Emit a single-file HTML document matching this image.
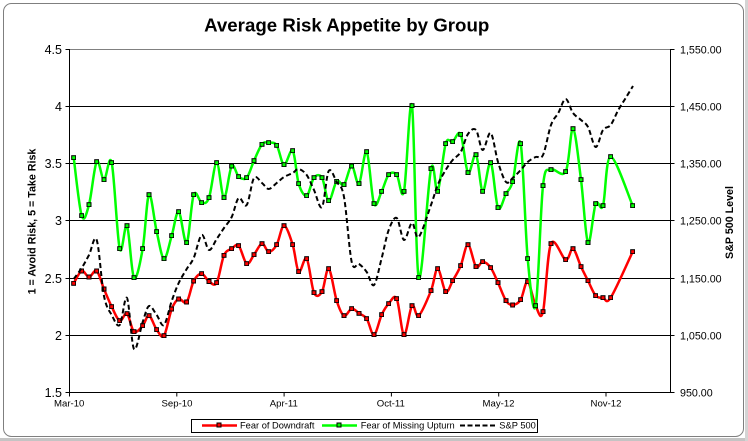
<!DOCTYPE html>
<html>
<head>
<meta charset="utf-8">
<style>
html,body{margin:0;padding:0;background:#fff;}
svg{display:block;}
</style>
</head>
<body>
<svg id="chart" width="748" height="441" viewBox="0 0 748 441" xmlns="http://www.w3.org/2000/svg" font-family="'Liberation Sans', Arial, sans-serif">
  <defs>
    <marker id="mr" markerUnits="userSpaceOnUse" markerWidth="5" markerHeight="5" refX="2.5" refY="2.5" viewBox="0 0 5 5">
      <rect x="0.5" y="0.5" width="4" height="4" fill="#ff0000" stroke="#000" stroke-width="1"/>
    </marker>
    <marker id="mg" markerUnits="userSpaceOnUse" markerWidth="5" markerHeight="5" refX="2.5" refY="2.5" viewBox="0 0 5 5">
      <rect x="0.5" y="0.5" width="4" height="4" fill="#00ff00" stroke="#000" stroke-width="1"/>
    </marker>
  </defs>

  <!-- outer background / sheet -->
  <rect x="0" y="0" width="748" height="441" fill="#ffffff"/>
  <rect x="0" y="438" width="748" height="3" fill="#c4c4c4"/>
  <rect x="745" y="0" width="3" height="441" fill="#d4d4d4"/>
  <!-- chart frame -->
  <rect x="3.5" y="3.5" width="740" height="433" rx="8" ry="8" fill="#ffffff" stroke="#7f7f7f" stroke-width="1"/>

  <!-- title -->
  <text x="346.7" y="31.5" font-size="18.7" font-weight="bold" text-anchor="middle" fill="#000">Average Risk Appetite by Group</text>

  <!-- plot area -->
  <rect x="69.5" y="49.5" width="601" height="343" fill="#ffffff" stroke="#808080" stroke-width="1"/>

  <!-- gridlines -->
  <g stroke="#000" stroke-width="1">
    <line x1="69" y1="106.5" x2="671" y2="106.5"/>
    <line x1="69" y1="163.5" x2="671" y2="163.5"/>
    <line x1="69" y1="220.5" x2="671" y2="220.5"/>
    <line x1="69" y1="278.5" x2="671" y2="278.5"/>
    <line x1="69" y1="335.5" x2="671" y2="335.5"/>
  </g>

  <!-- axes -->
  <g stroke="#000" stroke-width="1">
    <line x1="69.5" y1="49" x2="69.5" y2="393"/>
    <line x1="670.5" y1="49" x2="670.5" y2="393"/>
    <line x1="69" y1="392.5" x2="671" y2="392.5"/>
    <!-- left ticks -->
    <line x1="65.5" y1="49.5" x2="69.5" y2="49.5"/>
    <line x1="65.5" y1="106.5" x2="69.5" y2="106.5"/>
    <line x1="65.5" y1="163.5" x2="69.5" y2="163.5"/>
    <line x1="65.5" y1="220.5" x2="69.5" y2="220.5"/>
    <line x1="65.5" y1="278.5" x2="69.5" y2="278.5"/>
    <line x1="65.5" y1="335.5" x2="69.5" y2="335.5"/>
    <line x1="65.5" y1="392.5" x2="69.5" y2="392.5"/>
    <!-- right ticks -->
    <line x1="670.5" y1="49.5" x2="674.5" y2="49.5"/>
    <line x1="670.5" y1="106.5" x2="674.5" y2="106.5"/>
    <line x1="670.5" y1="163.5" x2="674.5" y2="163.5"/>
    <line x1="670.5" y1="220.5" x2="674.5" y2="220.5"/>
    <line x1="670.5" y1="278.5" x2="674.5" y2="278.5"/>
    <line x1="670.5" y1="335.5" x2="674.5" y2="335.5"/>
    <line x1="670.5" y1="392.5" x2="674.5" y2="392.5"/>
    <!-- bottom ticks -->
    <line x1="69.5" y1="392.5" x2="69.5" y2="396.5"/>
    <line x1="176.8" y1="392.5" x2="176.8" y2="396.5"/>
    <line x1="284.1" y1="392.5" x2="284.1" y2="396.5"/>
    <line x1="391.4" y1="392.5" x2="391.4" y2="396.5"/>
    <line x1="498.7" y1="392.5" x2="498.7" y2="396.5"/>
    <line x1="606" y1="392.5" x2="606" y2="396.5"/>
  </g>

  <!-- left axis labels -->
  <g font-size="12.5" fill="#000" text-anchor="end">
    <text x="62" y="53.8">4.5</text>
    <text x="62" y="110.8">4</text>
    <text x="62" y="167.8">3.5</text>
    <text x="62" y="224.8">3</text>
    <text x="62" y="282.8">2.5</text>
    <text x="62" y="339.8">2</text>
    <text x="62" y="396.8">1.5</text>
  </g>

  <!-- right axis labels -->
  <g font-size="10.7" fill="#000" text-anchor="start">
    <text x="680" y="53.3">1,550.00</text>
    <text x="680" y="110.3">1,450.00</text>
    <text x="680" y="167.3">1,350.00</text>
    <text x="680" y="224.3">1,250.00</text>
    <text x="680" y="282.3">1,150.00</text>
    <text x="680" y="339.3">1,050.00</text>
    <text x="680" y="396.3">950.00</text>
  </g>

  <!-- x axis labels -->
  <g font-size="9.6" fill="#000" text-anchor="middle">
    <text x="69.2" y="406.5">Mar-10</text>
    <text x="177" y="406.5">Sep-10</text>
    <text x="283.8" y="406.5">Apr-11</text>
    <text x="390.8" y="406.5">Oct-11</text>
    <text x="498.5" y="406.5">May-12</text>
    <text x="606" y="406.5">Nov-12</text>
  </g>

  <!-- axis titles -->
  <text transform="translate(35.5,221.5) rotate(-90)" font-size="10.7" font-weight="bold" text-anchor="middle" fill="#000">1 = Avoid Risk, 5 = Take Risk</text>
  <text transform="translate(733,222.5) rotate(-90)" font-size="10.7" font-weight="bold" text-anchor="middle" fill="#000">S&amp;P 500 Level</text>

  <!-- series -->
  <polyline class="sm" fill="none" stroke="#ff0000" stroke-width="2.5" stroke-linejoin="round"
    marker-start="url(#mr)" marker-mid="url(#mr)" marker-end="url(#mr)"
    points="73.7,283.3 81.7,271 89,277 96.7,271 104,289 111.7,306.7 119.7,320.7 127,313.7 134,331.7 142.7,325.7 149,315.7 156.7,329.7 164,335.7 171.7,309 178.7,299 186.7,302 193.7,281 201.7,273.7 209,281.5 216.7,282.7 224,255.3 231.7,248.7 238.7,245.7 246.7,263.7 254,254.7 262,243.7 268.7,251.7 276.7,244.7 284,225.7 292.7,244.7 298.7,271.7 306.7,258.7 314,292.7 322,291.7 328.7,268.7 336.7,300.7 344,315.7 351.7,308.7 359,313.3 366.7,318.7 374,334.7 381.7,314.7 388.7,303.7 396.7,298.7 404,334.7 412,305.7 418.7,315.7 431,290.7 437.7,268.7 445.7,291.7 452.7,280.7 460.7,265.7 468,244.7 476,266.7 482.7,261.7 490.7,267.7 498,282.7 506,300.7 512.7,305 520.7,299.7 527.7,281.7 535.7,306 543,311.7 551,243.7 565.7,259.7 573,248.7 581,266.7 588,280.7 595.7,295.7 603,297.7 610.7,297.7 632.7,251.7"/>

  <polyline class="sm" fill="none" stroke="#00ff00" stroke-width="2.5" stroke-linejoin="round"
    marker-start="url(#mg)" marker-mid="url(#mg)" marker-end="url(#mg)"
    points="73.7,157.7 81.7,215.7 89,204.7 96.7,161.7 104,179.7 111.7,162.7 119.7,248.7 127,225.7 134,277.7 142.7,248.7 149,194.7 156.7,231.7 164,258.7 171.7,235.7 178.7,211.7 186.7,242.7 193.7,194.7 201.7,202.7 209,197.7 216.7,162.7 224,197.7 231.7,166 238.7,176.7 246.7,177.7 254,160.7 262,144.3 268.7,142.7 276.7,145.3 284,164.7 292.7,150.7 298.7,183.7 306.7,195.7 314,177.7 322,177.7 328.7,200.7 336.7,181.3 344,184.7 351.7,166 359,183.7 366.7,151.7 374,203.7 381.7,191.3 388.7,174.7 396.7,174.7 404,191.3 412,105.7 418.7,277.7 431,168.7 437.7,191.3 445.7,143.7 452.7,141.7 460.7,134.3 468,172.7 476,154.7 482.7,191.3 490.7,162.7 498,207.7 506,193.7 512.7,181.7 520.7,143.7 527.7,258.7 535.7,305.7 543,185.7 551,169.7 565.7,171.7 573,128.7 581,179.7 588,242.7 595.7,203.7 603,205.7 610.7,156.7 632.7,205.7"/>

  <polyline class="sm" fill="none" stroke="#000" stroke-width="2" stroke-dasharray="5,3"
    points="73.7,279 81.7,268 89,255 96.7,240 104,296 111.7,315 119.7,325 127,298 134,349 142.7,322 149,306 156.7,315 164,325 171.7,301 178.7,283 186.7,269 193.7,258 201.7,235 209,250 216.7,239 224,228 231.7,217 238.7,198 246.7,205 254,178 262,183 268.7,189 276.7,183 284,177 292.7,173 298.7,169 306.7,175 314,190 322,207 328.7,171 336.7,182 344,197 351.7,262 359,264 366.7,272 374,285 381.7,258 388.7,230 396.7,218 404,240 412,223 418.7,237 431,205 437.7,185 445.7,170 452.7,160 460.7,152 468,134 476,130 482.7,150 490.7,133 498,162 506,182 512.7,178 520.7,170 527.7,162 535.7,157 543,155 551,125 558.3,113 565.7,99 573,113 581,120 588,127 595.7,147 603,130 610.7,125 618.3,110 625.7,98 633,86"/>

  <!-- legend -->
  <rect x="191.5" y="419.5" width="346" height="13" fill="#ffffff" stroke="#000" stroke-width="1"/>
  <line x1="202" y1="425.5" x2="237" y2="425.5" stroke="#ff0000" stroke-width="2.5"/>
  <rect x="217" y="423" width="4" height="4" fill="#ff0000" stroke="#000" stroke-width="1"/>
  <text x="240" y="428.7" font-size="9.3" fill="#000">Fear of Downdraft</text>
  <line x1="322" y1="425.5" x2="357" y2="425.5" stroke="#00ff00" stroke-width="2.5"/>
  <rect x="337" y="423" width="4" height="4" fill="#00ff00" stroke="#000" stroke-width="1"/>
  <text x="360.7" y="428.7" font-size="9.3" fill="#000">Fear of Missing Upturn</text>
  <line x1="460" y1="425.5" x2="496" y2="425.5" stroke="#000" stroke-width="2" stroke-dasharray="5,2.5"/>
  <text x="499.3" y="428.7" font-size="9.3" fill="#000">S&amp;P 500</text>
</svg>
<script>
(function(){
  var NS="http://www.w3.org/2000/svg";
  var lines=document.querySelectorAll("polyline.sm");
  for(var k=0;k<lines.length;k++){
    var pl=lines[k];
    var raw=pl.getAttribute("points").trim().split(/\s+/);
    var p=raw.map(function(s){var a=s.split(",");return [parseFloat(a[0]),parseFloat(a[1])];});
    var n=p.length;
    var d="M"+p[0][0]+","+p[0][1];
    for(var i=0;i<n-1;i++){
      var p0=p[Math.max(i-1,0)],p1=p[i],p2=p[i+1],p3=p[Math.min(i+2,n-1)];
      var c1x=p1[0]+(p2[0]-p0[0])/6,c1y=p1[1]+(p2[1]-p0[1])/6;
      var c2x=p2[0]-(p3[0]-p1[0])/6,c2y=p2[1]-(p3[1]-p1[1])/6;
      d+=" C"+c1x.toFixed(2)+","+c1y.toFixed(2)+" "+c2x.toFixed(2)+","+c2y.toFixed(2)+" "+p2[0]+","+p2[1];
    }
    var path=document.createElementNS(NS,"path");
    for(var j=0;j<pl.attributes.length;j++){
      var at=pl.attributes[j];
      if(at.name!=="points"&&at.name!=="class"){path.setAttribute(at.name,at.value);}
    }
    path.setAttribute("d",d);
    pl.parentNode.replaceChild(path,pl);
  }
})();
</script>
</body>
</html>
